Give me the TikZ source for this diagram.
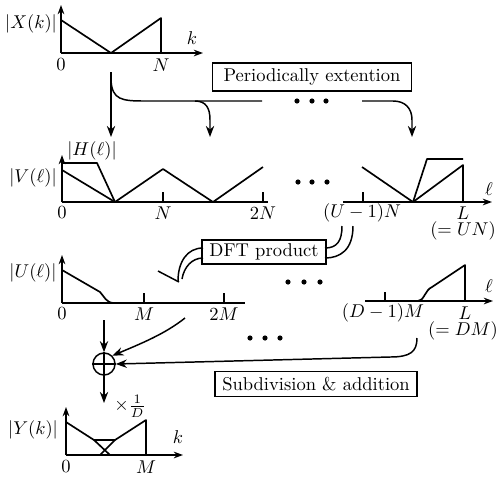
\documentclass[tikz,border=0pt]{standalone}
\usetikzlibrary{arrows.meta}
\begin{document}
\begin{tikzpicture}[x=0.54pt,y=-0.54pt,
  sig/.style={line width=0.9pt, line join=round},
  axis/.style={line width=0.7pt, -{Stealth[length=5pt,width=3.6pt]}},
  tickline/.style={line width=0.7pt},
  conn/.style={line width=0.8pt},
  arr/.style={conn, -{Stealth[length=6pt,width=4.5pt]}},
  lbl/.style={inner sep=0pt},
  boxnode/.style={draw, line width=0.7pt, inner xsep=4pt, inner ysep=3pt},
  dotfill/.style={fill=black}]
\useasboundingbox (0,0) rectangle (498,476);

% ---------- |X(k)| ----------
\draw[axis] (61,53) -- (61,5);
\draw[axis] (61,53) -- (203,53);
\draw[sig] (61,20) -- (111,53) -- (161,18) -- (161,53);
\node[lbl] (lx) at (31,24) {$|X(k)|$};
\node[lbl] (kx) at (192,38) {$k$};
\node[lbl] (x0) at (61,65) {$0$};
\node[lbl] (xN) at (161,65) {$N$};

% ---------- Periodically extention ----------
\node[boxnode, inner xsep=6pt] (pe) at (312,77) {Periodically extention};
\foreach \x in {297,312,326} \fill[dotfill] (\x,101) circle[radius=1.4pt];

\coordinate (p0) at (111,72);
\coordinate (p1) at (111,137);
\coordinate (p2) at (210,137);
\coordinate (p3) at (412,137);
\draw[arr] (p0) -- (p1);
\draw[conn] (111,80) .. controls (112,100) and (122,101) .. (145,101) -- (262,101);
\draw[arr] (195,101) .. controls (206,101) and (210,108) .. (210,120) -- (p2);
\draw[arr] (362,101) -- (393,101) .. controls (405,101) and (412,108) .. (412,120) -- (p3);

% ---------- |V(l)| ----------
\draw[axis] (62,202) -- (62,155);
\draw[tickline] (62,202) -- (268,202);
\draw[tickline] (163,202) -- (163,192);
\draw[tickline] (263,202) -- (263,192);
\draw[sig] (62,170) -- (115,202) -- (163,169) -- (213,202) -- (263,167);
\draw[sig] (62,163) -- (97,163) -- (115,202);
\node[lbl] (lv) at (33,178) {$|V(\ell)|$};
\node[lbl] (lh) at (92,151) {$|H(\ell)|$};
\node[lbl] (v0) at (62,213) {$0$};
\node[lbl] (vN) at (163,213) {$N$};
\node[lbl] (v2N) at (263,213) {$2N$};
\foreach \x in {298,312,327} \fill[dotfill] (\x,182) circle[radius=1.4pt];

\draw[axis] (343,202) -- (492,202);
\draw[tickline] (363,202) -- (363,192);
\draw[sig] (362,167) -- (413,202) -- (463,165) -- (463,202);
\draw[sig] (413,202) -- (427,159) -- (463,159);
\node[lbl] (vl) at (489,189) {$\ell$};
\node[lbl] (vU) at (362,213) {$(U-1)N$};
\node[lbl] (vL) at (463,213) {$L$};
\node[lbl] (vUN) at (463,231) {$(=UN)$};

% ---------- DFT product ----------
\node[boxnode, inner ysep=2pt] (dft) at (264,252) {DFT product};
\draw[conn] (342,226) .. controls (342,241) and (337,248) .. (325,248);
\draw[conn] (353,226) .. controls (353,250) and (340,258) .. (325,258);
\draw[conn] (203,248) .. controls (187,248) and (178,262) .. (178,281);
\draw[conn] (203,258) .. controls (192,258) and (184,267) .. (182,279);
\draw[conn] (158,271) -- (179,282);

% ---------- |U(l)| ----------
\draw[axis] (62,303) -- (62,255);
\draw[tickline] (62,303) -- (245,303);
\draw[tickline] (144,303) -- (144,293);
\draw[tickline] (224,303) -- (224,293);
\draw[sig] (62,270) -- (100,292) .. controls (104,296) and (106,303) .. (114,303);
\node[lbl] (lu) at (33,273) {$|U(\ell)|$};
\node[lbl] (u0) at (62,314) {$0$};
\node[lbl] (uM) at (144,314) {$M$};
\node[lbl] (u2M) at (224,314) {$2M$};
\foreach \x in {288,304,320} \fill[dotfill] (\x,282) circle[radius=1.4pt];

\draw[axis] (365,301) -- (493,301);
\draw[tickline] (385,301) -- (385,292);
\draw[sig] (418,301) .. controls (424,301) and (425,290) .. (432,287) -- (465,265) -- (465,301);
\node[lbl] (ul) at (489,286) {$\ell$};
\node[lbl] (uD) at (383,313) {$(D-1)M$};
\node[lbl] (uL) at (465,313) {$L$};
\node[lbl] (uDM) at (463,331) {$(=DM)$};
\foreach \x in {250,265,280} \fill[dotfill] (\x,338) circle[radius=1.4pt];

% ---------- summation ----------
\node[circle, draw, line width=0.8pt, minimum size=11.9pt, inner sep=0pt] (sum) at (104,364) {};
\draw[conn] (sum.north) -- (sum.south);
\draw[conn] (sum.west) -- (sum.east);
\coordinate (s0) at (104,320);
\coordinate (s1) at (185,318);
\coordinate (s2) at (417,338);
\coordinate (s3) at (104,403);
\draw[arr] (s0) -- (sum.north);
\draw[arr] (s1) .. controls (165,334) and (140,344) .. (sum.north east);
\draw[arr] (s2) .. controls (417,352) and (410,357) .. (390,357) -- (sum.east);
\draw[arr] (sum.south) -- (s3);
\node[lbl, anchor=west] (frac) at (114,406) {$\times\frac{1}{D}$};

\node[boxnode] (sub) at (316,384) {Subdivision \& addition};

% ---------- |Y(k)| ----------
\draw[axis] (66,455) -- (66,407);
\draw[axis] (66,455) -- (183,455);
\draw[sig] (66,422) -- (94,440) -- (115,440) -- (146,420) -- (146,455);
\draw[sig] (94,440) -- (110,455);
\draw[sig] (115,440) -- (100,455);
\node[lbl] (ly) at (33,430) {$|Y(k)|$};
\node[lbl] (ky) at (178,437) {$k$};
\node[lbl] (y0) at (66,467) {$0$};
\node[lbl] (yM) at (146,467) {$M$};
\end{tikzpicture}
\end{document}
